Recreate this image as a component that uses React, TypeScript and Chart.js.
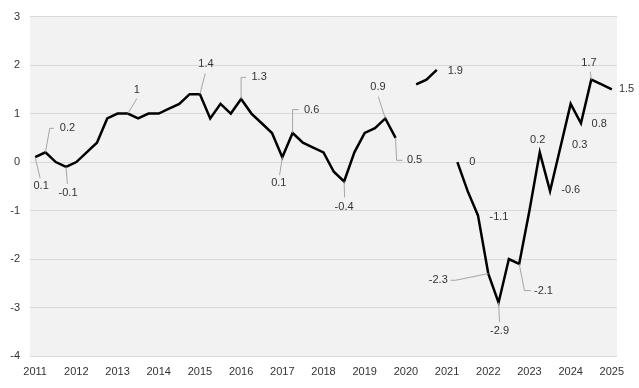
import React, { useEffect, useRef } from "react";
import { Chart, registerables } from "chart.js";

Chart.register(...registerables);

const years = [2011, 2012, 2013, 2014, 2015, 2016, 2017, 2018, 2019, 2020, 2021, 2022, 2023, 2024, 2025];
const quarters = ["Q1", "Q2", "Q3", "Q4"];
const categories: string[] = [];
years.forEach((y) => {
  quarters.forEach((q) => {
    if (y < 2025 || q === "Q1") categories.push(`${y} ${q}`);
  });
});

const values: (number | null)[] = [
  0.1, 0.2, 0.0, -0.1, 0.0, 0.2, 0.4, 0.9,
  1.0, 1.0, 0.9, 1.0, 1.0, 1.1, 1.2, 1.4,
  1.4, 0.9, 1.2, 1.0, 1.3, 1.0, 0.8, 0.6,
  0.1, 0.6, 0.4, 0.3, 0.2, -0.2, -0.4, 0.2,
  0.6, 0.7, 0.9, 0.5, null, 1.6, 1.7, 1.9,
  null, 0.0, -0.6, -1.1, -2.3, -2.9, -2.0, -2.1,
  -1.0, 0.2, -0.6, 0.3, 1.2, 0.8, 1.7, 1.6,
  1.5,
];

const yTicks = [3, 2, 1, 0, -1, -2, -3, -4];

// Which points carry a value label
const labelledPoints = [0, 1, 3, 9, 16, 20, 24, 25, 30, 34, 35, 39, 41, 43, 44, 45, 47, 49, 50, 51, 53, 54, 56];

// Label placement relative to the point: text offset and leader path
type Ann = { dx: number; dy: number; leader: [number, number][] };
const placement: Record<number, Ann> = {
  0: { dx: 6, dy: 29, leader: [[5, 21]] },
  1: { dx: 22, dy: -24, leader: [[4.3, -24], [8.3, -24]] },
  3: { dx: 2, dy: 26, leader: [[1.3, 17]] },
  9: { dx: 9, dy: -24, leader: [[9, -15]] },
  16: { dx: 6, dy: -30, leader: [[5.3, -20.7]] },
  20: { dx: 18, dy: -22.5, leader: [[0, -21.7], [5, -21.7]] },
  24: { dx: -3.5, dy: 25.5, leader: [[-2.7, 18]] },
  25: { dx: 19, dy: -23.4, leader: [[0, -23.4], [6, -23.4]] },
  30: { dx: 0, dy: 25.3, leader: [[0.5, 16]] },
  34: { dx: -7.3, dy: -31.4, leader: [[-7, -21.7]] },
  35: { dx: 19, dy: 22.6, leader: [[1, 22.5], [7, 22.5]] },
  39: { dx: 18.5, dy: 0.6, leader: [] },
  41: { dx: 15, dy: 0, leader: [] },
  43: { dx: 21, dy: 1.7, leader: [] },
  44: { dx: -50, dy: 6.7, leader: [[-32.7, 6.7], [-37.7, 6.7]] },
  45: { dx: 1, dy: 28.3, leader: [[1, 19.3]] },
  47: { dx: 24.3, dy: 26.7, leader: [[5.3, 26.7], [11.7, 26.7]] },
  49: { dx: -2, dy: -12.7, leader: [] },
  50: { dx: 20.7, dy: -0.7, leader: [] },
  51: { dx: 19.3, dy: -2.5, leader: [] },
  53: { dx: 18.3, dy: 0.3, leader: [] },
  54: { dx: -2.3, dy: -16.7, leader: [[-1, -8]] },
  56: { dx: 14.7, dy: 0, leader: [] },
};

const FONT = "'Liberation Sans', Arial, sans-serif";

const bgPlugin = {
  id: "plotBg",
  beforeDraw(chart: any) {
    const { ctx, chartArea } = chart;
    ctx.save();
    ctx.fillStyle = "#f2f2f2";
    ctx.fillRect(chartArea.left, chartArea.top, chartArea.right - chartArea.left, chartArea.bottom - chartArea.top);
    ctx.restore();
  },
};

const labelPlugin = {
  id: "valueLabels",
  afterDatasetsDraw(chart: any) {
    const { ctx } = chart;
    const meta = chart.getDatasetMeta(0);
    ctx.save();
    labelledPoints.forEach((i) => {
      const el = meta.data[i];
      const v = values[i];
      const p = placement[i];
      if (!el || v === null || !p) return;
      const x = el.x;
      const y = el.y;
      if (p.leader.length) {
        ctx.strokeStyle = "#a6a6a6";
        ctx.lineWidth = 1;
        ctx.beginPath();
        ctx.moveTo(x, y);
        p.leader.forEach(([lx, ly]) => ctx.lineTo(x + lx, y + ly));
        ctx.stroke();
      }
      ctx.fillStyle = "#333333";
      ctx.font = `11px ${FONT}`;
      ctx.textAlign = "center";
      ctx.textBaseline = "middle";
      ctx.fillText(String(v), x + p.dx, y + p.dy);
    });
    ctx.restore();
  },
};

export default function App() {
  const ref = useRef<HTMLCanvasElement>(null);
  useEffect(() => {
    document.body.style.margin = "0";
    const chart = new Chart(ref.current!, {
      type: "line",
      data: {
        labels: categories,
        datasets: [
          {
            data: values,
            borderColor: "#000000",
            borderWidth: 2.5,
            pointRadius: 0,
            tension: 0,
            spanGaps: false,
            fill: false,
          },
        ],
      },
      options: {
        animation: false,
        responsive: false,
        maintainAspectRatio: false,
        layout: { padding: { left: 0, right: 22, top: 14, bottom: 0 } },
        plugins: { legend: { display: false }, tooltip: { enabled: false } },
        scales: {
          x: {
            type: "category",
            offset: true,
            grid: { display: false, drawTicks: false },
            border: { display: false },
            ticks: {
              autoSkip: false,
              maxRotation: 0,
              padding: 9,
              color: "#333333",
              font: { family: FONT, size: 11 },
              callback: (_v: any, idx: number) => (idx % 4 === 0 ? categories[idx].slice(0, 4) : ""),
            },
            afterFit: (s: any) => {
              s.height = 32;
            },
          },
          y: {
            min: -4,
            max: 3,
            afterBuildTicks: (s: any) => {
              s.ticks = yTicks.map((v) => ({ value: v }));
            },
            grid: { color: "#d9d9d9", lineWidth: 1, drawTicks: false },
            border: { display: false },
            ticks: {
              padding: 10,
              color: "#333333",
              font: { family: FONT, size: 11 },
            },
            afterFit: (s: any) => {
              s.width = 30;
            },
          },
        },
      },
      plugins: [bgPlugin, labelPlugin],
    });
    return () => chart.destroy();
  }, []);
  return (
    <div style={{ width: 639, height: 388 }}>
      <canvas ref={ref} width={639} height={388} style={{ width: 639, height: 388 }} />
    </div>
  );
}
